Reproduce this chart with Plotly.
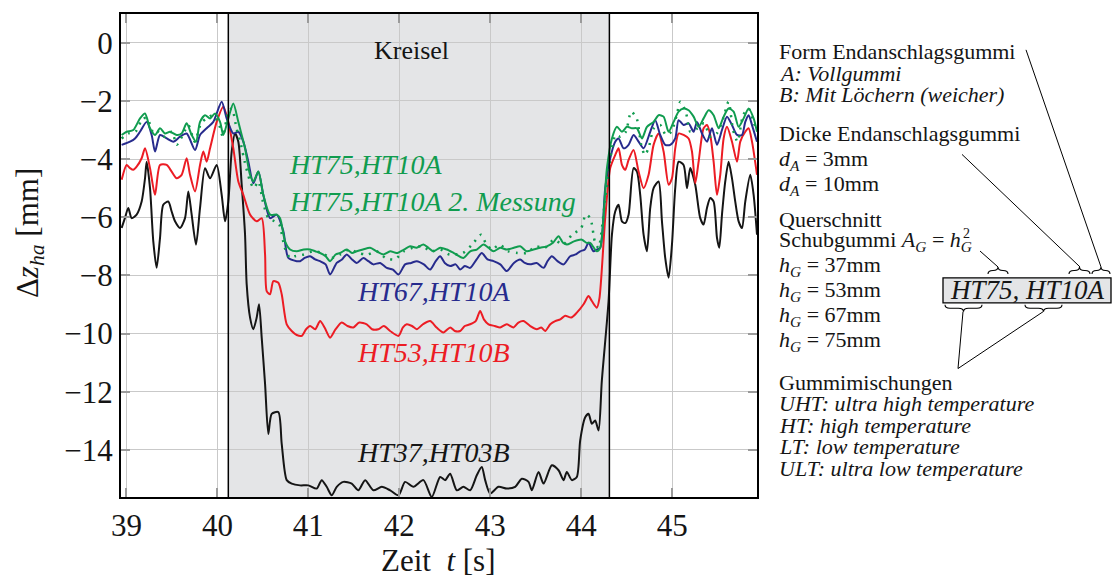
import plotly.graph_objects as go

# --- measured displacement Δz_ha [mm] over time t [s], (t, z) pairs ---
HT37_HT03B = [
    (38.947, -6.37), (38.983, -6.03), (39.020, -5.68), (39.057, -6.03), (39.112, -5.91),
    (39.167, -5.46), (39.204, -4.66), (39.222, -4.09), (39.259, -5.00), (39.295, -6.83),
    (39.332, -7.74), (39.369, -6.71), (39.405, -5.57), (39.460, -5.46), (39.497, -5.80),
    (39.534, -6.14), (39.589, -6.37), (39.644, -6.03), (39.680, -5.11), (39.717, -5.91),
    (39.765, -6.94), (39.809, -5.68), (39.864, -4.31), (39.919, -4.66), (39.992, -4.20),
    (40.047, -5.23), (40.084, -6.14), (40.120, -5.46), (40.157, -3.74), (40.194, -3.12),
    (40.230, -3.40), (40.267, -4.88), (40.304, -6.60), (40.322, -8.31), (40.359, -9.45),
    (40.395, -9.85), (40.432, -9.45), (40.458, -8.99), (40.487, -10.14), (40.524, -11.73),
    (40.560, -13.45), (40.597, -12.76), (40.670, -12.70), (40.707, -13.79), (40.762, -15.04),
    (40.817, -15.16), (40.909, -15.22), (41.000, -15.22), (41.092, -15.33), (41.147, -15.04),
    (41.202, -15.27), (41.257, -15.56), (41.312, -15.27), (41.385, -15.10), (41.477, -15.16),
    (41.550, -15.39), (41.624, -15.04), (41.715, -15.39), (41.807, -15.27), (41.899, -15.39),
    (41.991, -15.56), (42.064, -15.10), (42.155, -15.27), (42.265, -15.04), (42.357, -15.62),
    (42.449, -14.93), (42.504, -15.04), (42.559, -14.82), (42.632, -15.39), (42.705, -15.27),
    (42.779, -15.39), (42.852, -14.87), (42.907, -14.59), (42.944, -15.04), (42.999, -15.50),
    (43.091, -15.27), (43.182, -15.33), (43.274, -15.27), (43.347, -14.99), (43.421, -15.10),
    (43.457, -15.39), (43.531, -14.76), (43.586, -15.16), (43.677, -14.53), (43.751, -14.70),
    (43.806, -15.04), (43.842, -14.76), (43.897, -15.04), (43.952, -14.93), (43.989, -13.67),
    (44.044, -12.88), (44.081, -12.76), (44.117, -13.10), (44.154, -12.99), (44.191, -13.33),
    (44.227, -11.62), (44.301, -8.88), (44.338, -6.60), (44.374, -5.80), (44.411, -5.57),
    (44.448, -6.14), (44.484, -6.20), (44.521, -5.91), (44.576, -4.31), (44.613, -4.43),
    (44.649, -5.23), (44.686, -6.60), (44.723, -7.17), (44.759, -5.68), (44.796, -5.00),
    (44.851, -4.77), (44.888, -6.14), (44.924, -7.40), (44.961, -8.08), (44.998, -6.94),
    (45.034, -5.00), (45.071, -4.09), (45.126, -4.20), (45.163, -5.00), (45.199, -4.31),
    (45.254, -4.88), (45.309, -6.03), (45.346, -6.25), (45.383, -5.68), (45.419, -5.34),
    (45.456, -5.46), (45.493, -6.71), (45.518, -7.05), (45.548, -5.91), (45.584, -4.77),
    (45.621, -4.09), (45.658, -4.66), (45.694, -5.46), (45.731, -6.14), (45.768, -6.37),
    (45.804, -5.46), (45.859, -4.54), (45.896, -5.23), (45.933, -6.60),
]

HT53_HT10B = [
    (38.947, -4.71), (39.002, -4.20), (39.039, -4.31), (39.075, -4.37), (39.112, -4.26),
    (39.167, -3.97), (39.204, -3.63), (39.259, -4.31), (39.314, -5.23), (39.369, -4.20),
    (39.442, -4.20), (39.497, -4.43), (39.552, -4.66), (39.607, -4.54), (39.662, -3.97),
    (39.699, -4.54), (39.754, -5.11), (39.809, -4.20), (39.845, -3.74), (39.882, -4.09),
    (39.919, -3.63), (39.992, -2.72), (40.065, -2.20), (40.120, -2.72), (40.175, -3.63),
    (40.230, -4.77), (40.285, -5.23), (40.359, -5.91), (40.432, -6.14), (40.487, -6.03),
    (40.524, -7.28), (40.542, -8.54), (40.579, -8.65), (40.615, -8.20), (40.670, -8.25),
    (40.707, -8.65), (40.762, -9.68), (40.817, -9.91), (40.872, -10.05), (40.927, -10.08),
    (40.975, -9.85), (41.019, -9.74), (41.075, -9.85), (41.129, -9.57), (41.180, -9.80),
    (41.239, -10.14), (41.300, -9.85), (41.367, -9.62), (41.430, -9.74), (41.495, -9.79),
    (41.560, -9.62), (41.642, -9.68), (41.700, -9.85), (41.770, -9.85), (41.830, -9.74),
    (41.899, -9.91), (41.991, -10.08), (42.040, -9.79), (42.082, -9.68), (42.140, -9.74),
    (42.192, -9.85), (42.260, -9.68), (42.339, -9.57), (42.410, -9.79), (42.485, -9.96),
    (42.560, -9.79), (42.610, -9.91), (42.669, -9.91), (42.720, -9.74), (42.779, -9.68),
    (42.840, -9.57), (42.889, -9.22), (42.930, -9.51), (42.981, -9.68), (43.050, -9.74),
    (43.109, -9.79), (43.180, -9.68), (43.256, -9.79), (43.310, -9.62), (43.366, -9.57),
    (43.440, -9.74), (43.512, -9.85), (43.560, -9.79), (43.604, -9.91), (43.660, -9.68),
    (43.714, -9.57), (43.770, -9.51), (43.824, -9.39), (43.890, -9.45), (43.952, -9.28),
    (44.026, -8.99), (44.081, -8.71), (44.117, -8.88), (44.172, -9.11), (44.200, -8.80),
    (44.264, -6.03), (44.319, -4.31), (44.374, -3.86), (44.411, -3.63), (44.448, -4.20),
    (44.484, -4.37), (44.521, -4.03), (44.576, -3.69), (44.631, -4.43), (44.686, -5.00),
    (44.741, -4.54), (44.796, -3.51), (44.851, -3.12), (44.906, -3.74), (44.961, -4.88),
    (44.998, -4.66), (45.034, -3.63), (45.071, -3.12), (45.126, -3.17), (45.181, -3.29),
    (45.218, -3.74), (45.254, -4.83), (45.291, -4.09), (45.346, -2.94), (45.383, -2.83),
    (45.419, -3.17), (45.456, -4.09), (45.493, -5.23), (45.529, -4.54), (45.566, -3.29),
    (45.603, -2.89), (45.658, -3.40), (45.713, -4.09), (45.749, -3.40), (45.804, -3.06),
    (45.841, -2.94), (45.878, -3.40), (45.933, -4.54),
]

HT67_HT10A = [
    (38.947, -3.51), (39.039, -3.40), (39.094, -3.29), (39.149, -3.06), (39.222, -2.72),
    (39.277, -3.17), (39.314, -3.74), (39.369, -3.17), (39.442, -3.29), (39.515, -3.40),
    (39.589, -3.23), (39.662, -3.12), (39.754, -3.69), (39.809, -3.17), (39.882, -2.94),
    (39.955, -2.72), (40.047, -2.03), (40.102, -2.60), (40.175, -3.12), (40.230, -3.06),
    (40.285, -3.40), (40.340, -4.09), (40.395, -4.83), (40.450, -4.43), (40.505, -5.23),
    (40.579, -6.03), (40.652, -5.91), (40.725, -6.48), (40.780, -7.40), (40.872, -7.51),
    (40.909, -7.51), (40.960, -7.40), (41.019, -7.34), (41.075, -7.45), (41.129, -7.51),
    (41.190, -7.62), (41.239, -7.97), (41.312, -7.57), (41.370, -7.45), (41.422, -7.28),
    (41.480, -7.45), (41.532, -7.57), (41.605, -7.40), (41.660, -7.51), (41.715, -7.62),
    (41.790, -7.57), (41.862, -7.74), (41.930, -7.80), (41.991, -7.97), (42.064, -7.62),
    (42.130, -7.57), (42.192, -7.51), (42.270, -7.62), (42.339, -7.80), (42.400, -7.51),
    (42.449, -7.34), (42.500, -7.57), (42.559, -7.68), (42.620, -7.62), (42.669, -7.80),
    (42.720, -7.68), (42.779, -7.74), (42.850, -7.45), (42.907, -7.23), (42.970, -7.45),
    (43.036, -7.51), (43.110, -7.62), (43.182, -7.85), (43.260, -7.57), (43.329, -7.45),
    (43.380, -7.57), (43.439, -7.62), (43.510, -7.57), (43.586, -7.74), (43.630, -7.51),
    (43.677, -7.34), (43.740, -7.51), (43.806, -7.62), (43.879, -7.34), (43.940, -7.28),
    (43.989, -7.17), (44.040, -7.11), (44.081, -6.88), (44.136, -7.17), (44.172, -7.11),
    (44.209, -7.05), (44.264, -5.00), (44.319, -3.97), (44.374, -3.40), (44.411, -3.29),
    (44.466, -3.63), (44.521, -3.51), (44.576, -3.17), (44.631, -3.40), (44.686, -3.63),
    (44.759, -3.06), (44.814, -2.66), (44.869, -3.17), (44.924, -3.51), (44.979, -3.51),
    (45.034, -3.29), (45.071, -2.66), (45.126, -2.83), (45.181, -2.77), (45.236, -3.06),
    (45.273, -2.72), (45.328, -3.12), (45.383, -3.40), (45.438, -2.94), (45.493, -3.51),
    (45.548, -3.00), (45.603, -2.54), (45.658, -2.83), (45.713, -3.17), (45.768, -3.17),
    (45.804, -2.72), (45.841, -2.49), (45.878, -2.83), (45.933, -3.40),
]

HT75_HT10A = [
    (38.947, -3.17), (39.002, -3.06), (39.075, -3.00), (39.149, -2.60), (39.204, -2.43),
    (39.259, -2.94), (39.314, -3.17), (39.369, -2.94), (39.424, -3.12), (39.479, -3.06),
    (39.552, -3.17), (39.607, -3.12), (39.662, -2.77), (39.717, -3.17), (39.765, -3.40),
    (39.809, -2.72), (39.864, -2.49), (39.919, -2.60), (39.974, -2.43), (40.029, -2.72),
    (40.065, -3.17), (40.120, -2.60), (40.175, -2.09), (40.230, -2.72), (40.267, -3.17),
    (40.304, -3.63), (40.359, -4.54), (40.395, -4.77), (40.450, -4.43), (40.505, -5.23),
    (40.579, -5.91), (40.652, -5.91), (40.689, -6.03), (40.744, -6.83), (40.799, -7.11),
    (40.872, -7.17), (40.950, -7.11), (41.019, -7.11), (41.075, -7.17), (41.129, -7.23),
    (41.190, -7.34), (41.239, -7.51), (41.300, -7.28), (41.349, -7.23), (41.422, -7.11),
    (41.480, -7.23), (41.532, -7.17), (41.600, -7.11), (41.679, -7.05), (41.750, -7.17),
    (41.825, -7.28), (41.900, -7.17), (41.972, -7.23), (42.050, -7.11), (42.119, -7.00),
    (42.190, -7.05), (42.265, -6.94), (42.320, -7.05), (42.375, -7.17), (42.450, -7.05),
    (42.522, -7.11), (42.600, -7.23), (42.705, -7.40), (42.780, -7.17), (42.852, -7.11),
    (42.926, -6.94), (42.980, -7.05), (43.036, -7.17), (43.110, -7.05), (43.182, -7.11),
    (43.260, -7.05), (43.329, -7.00), (43.400, -7.17), (43.476, -7.11), (43.550, -7.05),
    (43.622, -7.00), (43.690, -6.88), (43.751, -6.65), (43.800, -6.88), (43.842, -6.94),
    (43.920, -6.83), (44.007, -6.77), (44.060, -6.88), (44.099, -6.88), (44.172, -7.17),
    (44.209, -7.05), (44.283, -4.31), (44.338, -3.29), (44.393, -2.89), (44.448, -3.06),
    (44.503, -2.89), (44.558, -2.94), (44.613, -2.94), (44.668, -3.29), (44.723, -2.89),
    (44.796, -2.72), (44.851, -2.49), (44.906, -2.54), (44.961, -3.06), (45.016, -2.72),
    (45.071, -2.37), (45.126, -2.26), (45.181, -2.32), (45.236, -2.54), (45.291, -2.89),
    (45.346, -2.60), (45.401, -2.32), (45.456, -2.49), (45.511, -2.94), (45.566, -2.54),
    (45.621, -2.26), (45.676, -2.37), (45.731, -2.89), (45.786, -2.60), (45.841, -2.26),
    (45.896, -2.60), (45.933, -3.06),
]

HT75_HT10A_2 = [
    (38.947, -3.29), (39.020, -3.12), (39.100, -3.06), (39.180, -2.60), (39.230, -2.60),
    (39.300, -3.12), (39.350, -3.06), (39.420, -3.23), (39.500, -3.06), (39.552, -3.51),
    (39.620, -3.17), (39.680, -2.83), (39.750, -3.40), (39.820, -2.77), (39.880, -2.60),
    (39.950, -2.49), (40.020, -2.83), (40.060, -3.23), (40.120, -2.37), (40.160, -2.26),
    (40.210, -2.94), (40.260, -3.51), (40.300, -4.09), (40.360, -4.77), (40.400, -5.00),
    (40.450, -4.77), (40.500, -5.46), (40.560, -6.03), (40.630, -6.14), (40.680, -6.25),
    (40.740, -7.05), (40.800, -7.40), (40.850, -7.34), (40.950, -7.28), (41.050, -7.17),
    (41.150, -7.23), (41.250, -7.40), (41.350, -7.28), (41.450, -7.11), (41.550, -7.23),
    (41.650, -7.28), (41.750, -7.17), (41.850, -7.40), (41.950, -7.45), (42.050, -7.17),
    (42.150, -7.05), (42.250, -7.00), (42.350, -7.17), (42.450, -7.11), (42.550, -7.28),
    (42.700, -7.23), (42.800, -6.94), (42.900, -6.60), (42.950, -6.88), (43.020, -7.11),
    (43.100, -6.94), (43.200, -7.17), (43.300, -7.23), (43.400, -7.23), (43.500, -7.00),
    (43.600, -7.05), (43.700, -6.77), (43.800, -6.94), (43.900, -6.60), (44.000, -6.37),
    (44.050, -5.91), (44.100, -6.03), (44.150, -6.83), (44.190, -7.05), (44.260, -5.46),
    (44.320, -3.97), (44.380, -3.17), (44.430, -3.23), (44.490, -3.06), (44.550, -2.37),
    (44.610, -2.60), (44.660, -3.51), (44.700, -3.86), (44.740, -3.63), (44.800, -2.94),
    (44.870, -2.83), (44.930, -3.17), (44.990, -3.06), (45.050, -2.49), (45.090, -2.03),
    (45.150, -2.37), (45.200, -3.06), (45.280, -2.94), (45.350, -2.77), (45.420, -3.23),
    (45.490, -3.12), (45.550, -2.72), (45.620, -2.03), (45.670, -3.00), (45.720, -3.40),
    (45.780, -2.49), (45.840, -2.26), (45.900, -2.77), (45.933, -3.00),
]

# gyro manoeuvre interval [s]
KREISEL_START = 40.12
KREISEL_END = 44.31

X_TICKS = [39, 40, 41, 42, 43, 44, 45]
Y_TICKS = [0, -2, -4, -6, -8, -10, -12, -14]

GREEN = "#109c4f"
BLUE = "#272b8d"
RED = "#ec1c24"
BLACK = "#151515"
SHADE = "#e4e5e7"
FONT = "Liberation Serif, Times New Roman, serif"

# plot-area box in pixels, used to place the side notes
W, H = 1112, 581
L, R, T, B = 121, 757, 12, 497


def fx(px):
    return (px - L) / (R - L)


def fy(py):
    return (B - py) / (B - T)


def unzip(pairs):
    return [p[0] for p in pairs], [p[1] for p in pairs]


def font(size, color=BLACK):
    return dict(family=FONT, size=size, color=color)


fig = go.Figure()

series = [
    (HT37_HT03B, BLACK, "solid", 2),
    (HT53_HT10B, RED, "solid", 2),
    (HT67_HT10A, BLUE, "solid", 2),
    (HT75_HT10A_2, GREEN, "2px,6px", 2.5),
    (HT75_HT10A, GREEN, "solid", 2),
]
for pairs, color, dash, width in series:
    t, z = unzip(pairs)
    fig.add_trace(go.Scatter(x=t, y=z, mode="lines",
                             line=dict(color=color, width=width, dash=dash,
                                       shape="spline", smoothing=0.7),
                             hoverinfo="skip"))

shapes = [
    dict(type="rect", xref="x", yref="paper", x0=KREISEL_START, x1=KREISEL_END,
         y0=0, y1=1, fillcolor=SHADE, line_width=0, layer="below"),
    dict(type="line", xref="x", yref="paper", x0=KREISEL_START, x1=KREISEL_START,
         y0=0, y1=1, line=dict(color="black", width=1.5)),
    dict(type="line", xref="x", yref="paper", x0=KREISEL_END, x1=KREISEL_END,
         y0=0, y1=1, line=dict(color="black", width=1.5)),
]


def brace(x0, x1, yb, h):
    """Horizontal curly brace from x0 to x1; ends at yb, tip at yb+h (pixels)."""
    xm = (x0 + x1) / 2
    ym = yb + h / 2
    yt = yb + h
    r = min(5, (x1 - x0) / 4)
    pts = [("M", [(x0, yb)]),
           ("Q", [(x0, ym), (x0 + r, ym)]),
           ("L", [(xm - r, ym)]),
           ("Q", [(xm, ym), (xm, yt)]),
           ("Q", [(xm, ym), (xm + r, ym)]),
           ("L", [(x1 - r, ym)]),
           ("Q", [(x1, ym), (x1, yb)])]
    path = " ".join(cmd + " " + " ".join(f"{fx(a):.5f},{fy(b):.5f}" for a, b in p)
                    for cmd, p in pts)
    return dict(type="path", xref="paper", yref="paper", path=path,
                line=dict(color="black", width=1.1))


def seg(x0, y0, x1, y1):
    return dict(type="line", xref="paper", yref="paper",
                x0=fx(x0), y0=fy(y0), x1=fx(x1), y1=fy(y1),
                line=dict(color="black", width=1))


# labelled example designation with its braces and leader lines
shapes += [
    dict(type="rect", xref="paper", yref="paper", x0=fx(943), x1=fx(1111),
         y0=fy(302), y1=fy(277), fillcolor=SHADE, line=dict(color="black", width=1.3)),
    brace(988, 1008, 273, -7),
    brace(1069, 1090, 273, -7),
    brace(1092, 1110, 273, -7),
    brace(945, 982, 304, 7),
    brace(1025, 1062, 304, 7),
    seg(998, 266, 980, 250),
    seg(1080, 266, 962, 153),
    seg(1101, 266, 1026, 48),
    seg(963, 311, 958, 368),
    seg(1043, 311, 958, 368),
]


def note(x, y, text, size, color=BLACK, ref="paper", xanchor="center", angle=0):
    return dict(x=x, y=y, xref=ref, yref=ref, text=text, showarrow=False,
                xanchor=xanchor, yanchor="middle", textangle=angle,
                font=font(size, color))


annotations = [
    note(42.137, -0.26, "Kreisel", 26, ref="x"),
    note(40.762, -4.20, "<i>HT75,HT10A</i>", 28, GREEN, ref="x", xanchor="left"),
    note(40.762, -5.46, "<i>HT75,HT10A 2. Messung</i>", 28, GREEN, ref="x", xanchor="left"),
    note(41.514, -8.54, "<i>HT67,HT10A</i>", 28, BLUE, ref="x", xanchor="left"),
    note(41.514, -10.65, "<i>HT53,HT10B</i>", 28, RED, ref="x", xanchor="left"),
    note(41.514, -14.08, "<i>HT37,HT03B</i>", 28, BLACK, ref="x", xanchor="left"),
    # axis titles
    note(fx(438), fy(561), "Zeit  <i>t</i> [s]", 31),
    note(fx(30), fy(232), "Δ<i>z</i><sub><i>ha</i></sub> [mm]", 31, angle=-90),
    # designation in the box
    note(fx(1027), fy(289.5), "<i>HT75, HT10A</i>", 27),
    note(fx(966), fy(232), "2", 14),
]
for a in annotations:
    if a["xref"] == "x":
        a["yref"] = "y"

notes = [
    ("Form Endanschlagsgummi", 50),
    ("<i>A: Vollgummi</i>", 71.7),
    ("<i>B: Mit Löchern (weicher)</i>", 93.3),
    ("Dicke Endanschlagsgummi", 131.7),
    ("<i>d</i><sub><i>A</i></sub> = 3mm", 158.3),
    ("<i>d</i><sub><i>A</i></sub> = 10mm", 183.3),
    ("Querschnitt", 218.3),
    ("Schubgummi <i>A</i><sub><i>G</i></sub> = <i>h</i><sub><i>G</i></sub>", 240),
    ("<i>h</i><sub><i>G</i></sub> = 37mm", 265),
    ("<i>h</i><sub><i>G</i></sub> = 53mm", 290),
    ("<i>h</i><sub><i>G</i></sub> = 67mm", 315),
    ("<i>h</i><sub><i>G</i></sub> = 75mm", 340),
    ("Gummimischungen", 381.7),
    ("<i>UHT: ultra high temperature</i>", 403.3),
    ("<i>HT: high temperature</i>", 425),
    ("<i>LT: low temperature</i>", 446.7),
    ("<i>ULT: ultra low temperature</i>", 468.3),
]
for text, py in notes:
    annotations.append(note(fx(777), fy(py), text, 22, xanchor="left"))

axis_common = dict(showline=True, linecolor="black", linewidth=2, mirror="ticks",
                   ticks="inside", ticklen=9, tickwidth=2, tickcolor="#9a9a9a",
                   showgrid=True, gridcolor="#c9c9c9", gridwidth=1, zeroline=False,
                   tickfont=font(31))

fig.update_layout(
    width=W, height=H,
    margin=dict(l=L, r=W - R, t=T, b=H - B),
    paper_bgcolor="white", plot_bgcolor="white",
    font=font(22),
    showlegend=False,
    shapes=shapes,
    annotations=annotations,
    xaxis=dict(range=[38.94, 45.933], tickvals=X_TICKS, **axis_common),
    yaxis=dict(range=[-15.62, 0.99], tickvals=Y_TICKS, **axis_common),
)

fig.write_html("out.html")
